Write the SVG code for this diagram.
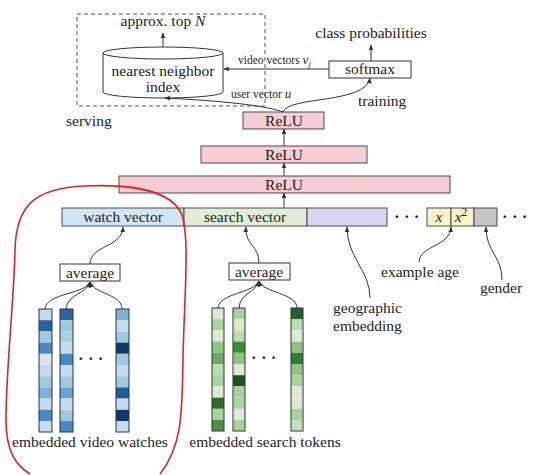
<svg xmlns="http://www.w3.org/2000/svg" width="540" height="475" viewBox="0 0 540 475">
<style>
text{font-family:"Liberation Serif","DejaVu Serif",serif;fill:#222;}
.lbl{font-size:15.5px;}
.sm{font-size:11.5px;}
.dots{font-size:17px;font-weight:bold;}
.mid{text-anchor:middle;}
.it{font-style:italic;}
.box{stroke:#4a4a4a;stroke-width:1;}
.relu{fill:#f5cdd3;}
.wbox{fill:#fff;stroke:#333;stroke-width:1;}
.con{fill:none;stroke:#333;stroke-width:1;}
.cell{stroke:none;}
.col{fill:none;stroke:#333;stroke-width:1;}
</style>
<defs>
<marker id="ah" viewBox="0 0 10 10" refX="9" refY="5" markerWidth="6" markerHeight="6" orient="auto" markerUnits="userSpaceOnUse">
<path d="M0,1 L10,5 L0,9 Z" fill="#333"/>
</marker>
</defs>
<rect width="540" height="475" fill="#fff"/>

<g id="serving-box">
<rect x="77" y="14" width="188" height="92" fill="none" stroke="#555" stroke-width="1" stroke-dasharray="4,3"/>
<text class="lbl" x="66" y="126">serving</text>
</g>

<g id="nn-index">
<path d="M103,53 L103,92 A60,6 0 0 0 223,92 L223,53" fill="#fff" stroke="#333" stroke-width="1"/>
<ellipse cx="163" cy="53" rx="60" ry="6" fill="#fff" stroke="#333" stroke-width="1"/>
<text class="lbl mid" x="163" y="76">nearest neighbor</text>
<text class="lbl mid" x="163" y="92">index</text>
</g>

<g id="top-n">
<text class="lbl mid" x="163" y="26">approx. top <tspan class="it">N</tspan></text>
</g>

<g id="softmax">
<rect class="wbox" x="329" y="61" width="82" height="17"/>
<text class="lbl mid" x="370" y="74">softmax</text>
</g>

<g id="class-prob">
<text class="lbl mid" x="371" y="38">class probabilities</text>
</g>

<g id="training">
<text class="lbl" x="358" y="106">training</text>
</g>

<g id="relu3">
<rect class="box relu" x="243" y="112" width="81" height="17"/>
<text class="lbl mid" x="284" y="125.5">ReLU</text>
</g>
<g id="relu2">
<rect class="box relu" x="201" y="146" width="166" height="17"/>
<text class="lbl mid" x="284" y="159.5">ReLU</text>
</g>
<g id="relu1">
<rect class="box relu" x="119" y="176" width="331" height="17"/>
<text class="lbl mid" x="284" y="189.5">ReLU</text>
</g>

<g id="input-layer">
<rect class="box" x="62" y="208" width="122" height="18" fill="#d2e5f2"/>
<text class="lbl mid" x="123" y="222">watch vector</text>
<rect class="box" x="184" y="208" width="123" height="18" fill="#dfedd9"/>
<text class="lbl mid" x="245" y="222">search vector</text>
<rect class="box" x="307" y="208" width="80" height="18" fill="#d9d6ef"/>
<text class="dots" x="394" y="222">· · ·</text>
<rect class="box" x="427" y="208" width="24" height="18" fill="#f8f3c8"/>
<text class="lbl mid it" x="439" y="222" fill="#444">x</text>
<rect class="box" x="451" y="208" width="23" height="18" fill="#f8f3c8"/>
<text class="lbl mid it" x="461" y="222" fill="#444">x<tspan class="sm" dy="-6" font-style="normal">2</tspan></text>
<rect class="box" x="474" y="208" width="23" height="18" fill="#c6c6c6"/>
<text class="dots" x="502" y="222">· · ·</text>
</g>

<g id="watch-average">
<rect class="wbox" x="60" y="264" width="60" height="17"/>
<text class="lbl mid" x="90" y="277.5">average</text>
</g>
<g id="search-average">
<rect class="wbox" x="229" y="263" width="61" height="17"/>
<text class="lbl mid" x="259" y="276.5">average</text>
</g>

<g id="watch-embeddings">
<g transform="translate(39,309)">
<rect class="cell" y="0" width="13" height="11.2" fill="#c6dbef"/>
<rect class="cell" y="11.2" width="13" height="11.2" fill="#2a64a3"/>
<rect class="cell" y="22.4" width="13" height="11.2" fill="#9ecae1"/>
<rect class="cell" y="33.6" width="13" height="11.2" fill="#4a87c3"/>
<rect class="cell" y="44.8" width="13" height="11.2" fill="#d6e6f4"/>
<rect class="cell" y="56" width="13" height="11.2" fill="#c6dbef"/>
<rect class="cell" y="67.2" width="13" height="11.2" fill="#9ecae1"/>
<rect class="cell" y="78.4" width="13" height="11.2" fill="#7fb0d8"/>
<rect class="cell" y="89.6" width="13" height="11.2" fill="#c6dbef"/>
<rect class="cell" y="100.8" width="13" height="11.2" fill="#4a87c3"/>
<rect class="cell" y="112" width="13" height="11" fill="#c6dbef"/>
<rect class="col" width="13" height="123"/>
</g>
<g transform="translate(60,309)">
<rect class="cell" y="0" width="13" height="11.2" fill="#2a64a3"/>
<rect class="cell" y="11.2" width="13" height="11.2" fill="#9ecae1"/>
<rect class="cell" y="22.4" width="13" height="11.2" fill="#a9cfe6"/>
<rect class="cell" y="33.6" width="13" height="11.2" fill="#c6dbef"/>
<rect class="cell" y="44.8" width="13" height="11.2" fill="#4a87c3"/>
<rect class="cell" y="56" width="13" height="11.2" fill="#c6dbef"/>
<rect class="cell" y="67.2" width="13" height="11.2" fill="#9ecae1"/>
<rect class="cell" y="78.4" width="13" height="11.2" fill="#6aa1d0"/>
<rect class="cell" y="89.6" width="13" height="11.2" fill="#c6dbef"/>
<rect class="cell" y="100.8" width="13" height="11.2" fill="#9ecae1"/>
<rect class="cell" y="112" width="13" height="11" fill="#4a87c3"/>
<rect class="col" width="13" height="123"/>
</g>
<g transform="translate(116,309)">
<rect class="cell" y="0" width="13" height="11.2" fill="#7fb0d8"/>
<rect class="cell" y="11.2" width="13" height="11.2" fill="#c6dbef"/>
<rect class="cell" y="22.4" width="13" height="11.2" fill="#9ecae1"/>
<rect class="cell" y="33.6" width="13" height="11.2" fill="#0e3a68"/>
<rect class="cell" y="44.8" width="13" height="11.2" fill="#9ecae1"/>
<rect class="cell" y="56" width="13" height="11.2" fill="#c6dbef"/>
<rect class="cell" y="67.2" width="13" height="11.2" fill="#9ecae1"/>
<rect class="cell" y="78.4" width="13" height="11.2" fill="#1f5c99"/>
<rect class="cell" y="89.6" width="13" height="11.2" fill="#c6dbef"/>
<rect class="cell" y="100.8" width="13" height="11.2" fill="#0e3a68"/>
<rect class="cell" y="112" width="13" height="11" fill="#c6dbef"/>
<rect class="col" width="13" height="123"/>
</g>
<text class="dots" x="78" y="364">· · ·</text>
<text class="lbl mid" x="90" y="447">embedded video watches</text>
</g>

<g id="search-embeddings">
<g transform="translate(212,308)">
<rect class="cell" y="0" width="12" height="11.2" fill="#d9ecd3"/>
<rect class="cell" y="11.2" width="12" height="11.2" fill="#a9d39e"/>
<rect class="cell" y="22.4" width="12" height="11.2" fill="#d9ecd3"/>
<rect class="cell" y="33.6" width="12" height="11.2" fill="#8cc484"/>
<rect class="cell" y="44.8" width="12" height="11.2" fill="#6aa864"/>
<rect class="cell" y="56" width="12" height="11.2" fill="#b9dcb0"/>
<rect class="cell" y="67.2" width="12" height="11.2" fill="#a9d39e"/>
<rect class="cell" y="78.4" width="12" height="11.2" fill="#d9ecd3"/>
<rect class="cell" y="89.6" width="12" height="11.2" fill="#2d6a2d"/>
<rect class="cell" y="100.8" width="12" height="11.2" fill="#a9d39e"/>
<rect class="cell" y="112" width="12" height="11" fill="#4a8f45"/>
<rect class="col" width="12" height="123"/>
</g>
<g transform="translate(233,308)">
<rect class="cell" y="0" width="12" height="11.2" fill="#a9d39e"/>
<rect class="cell" y="11.2" width="12" height="11.2" fill="#d9ecd3"/>
<rect class="cell" y="22.4" width="12" height="11.2" fill="#b9dcb0"/>
<rect class="cell" y="33.6" width="12" height="11.2" fill="#3d8a3d"/>
<rect class="cell" y="44.8" width="12" height="11.2" fill="#8cc484"/>
<rect class="cell" y="56" width="12" height="11.2" fill="#d9ecd3"/>
<rect class="cell" y="67.2" width="12" height="11.2" fill="#1f561f"/>
<rect class="cell" y="78.4" width="12" height="11.2" fill="#a9d39e"/>
<rect class="cell" y="89.6" width="12" height="11.2" fill="#a9d39e"/>
<rect class="cell" y="100.8" width="12" height="11.2" fill="#d9ecd3"/>
<rect class="cell" y="112" width="12" height="11" fill="#a9d39e"/>
<rect class="col" width="12" height="123"/>
</g>
<g transform="translate(291,308)">
<rect class="cell" y="0" width="12" height="11.2" fill="#2a5e2a"/>
<rect class="cell" y="11.2" width="12" height="11.2" fill="#b9dcb0"/>
<rect class="cell" y="22.4" width="12" height="11.2" fill="#d9ecd3"/>
<rect class="cell" y="33.6" width="12" height="11.2" fill="#8cc484"/>
<rect class="cell" y="44.8" width="12" height="11.2" fill="#357a32"/>
<rect class="cell" y="56" width="12" height="11.2" fill="#8cc484"/>
<rect class="cell" y="67.2" width="12" height="11.2" fill="#a9d39e"/>
<rect class="cell" y="78.4" width="12" height="11.2" fill="#d9ecd3"/>
<rect class="cell" y="89.6" width="12" height="11.2" fill="#d9ecd3"/>
<rect class="cell" y="100.8" width="12" height="11.2" fill="#a9d39e"/>
<rect class="cell" y="112" width="12" height="11" fill="#c4e2bc"/>
<rect class="col" width="12" height="123"/>
</g>
<text class="dots" x="251" y="363">· · ·</text>
<text class="lbl mid" x="265" y="447">embedded search tokens</text>
</g>

<g id="geo-label">
<text class="lbl" x="333" y="313">geographic</text>
<text class="lbl" x="333" y="331">embedding</text>
</g>
<g id="age-label">
<text class="lbl mid" x="420" y="277">example age</text>
</g>
<g id="gender-label">
<text class="lbl mid" x="501" y="293">gender</text>
</g>

<g id="connectors">
<path class="con" d="M163,47 L163,33" marker-end="url(#ah)"/>
<path class="con" d="M371,61 L371,45" marker-end="url(#ah)"/>
<path class="con" d="M329,69 L224,69" marker-end="url(#ah)"/>
<path class="con" d="M283,112 C288,96 366,104 370,78" marker-end="url(#ah)"/>
<path class="con" d="M283,112 C262,104 205,100 165,98" marker-end="url(#ah)"/>
<path class="con" d="M284,146 L284,129" marker-end="url(#ah)"/>
<path class="con" d="M284,176 L284,163" marker-end="url(#ah)"/>
<path class="con" d="M284,208 L284,193" marker-end="url(#ah)"/>
<path class="con" d="M90,264 C90,245 122,248 123,227" marker-end="url(#ah)"/>
<path class="con" d="M45,309 C46,293 86,294 90,282" marker-end="url(#ah)"/>
<path class="con" d="M66,309 C67,294 87,294 90,282" marker-end="url(#ah)"/>
<path class="con" d="M122,309 C122,294 94,294 90,282" marker-end="url(#ah)"/>
<path class="con" d="M259,263 C259,245 245,246 246,227" marker-end="url(#ah)"/>
<path class="con" d="M218,308 C219,293 255,293 259,281" marker-end="url(#ah)"/>
<path class="con" d="M239,308 C240,293 256,293 259,281" marker-end="url(#ah)"/>
<path class="con" d="M297,308 C297,293 263,293 259,281" marker-end="url(#ah)"/>
<path class="con" d="M370,298 C370,270 347,258 347,227" marker-end="url(#ah)"/>
<path class="con" d="M419,262 C420,245 450,247 451,227" marker-end="url(#ah)"/>
<path class="con" d="M502,280 C502,256 486,252 486,227" marker-end="url(#ah)"/>
</g>

<g id="labels-top">
<text class="sm" x="238" y="64">video vectors <tspan class="it" font-size="13">v</tspan><tspan class="it" font-size="9" dy="3">j</tspan></text>
<text class="sm" x="231" y="98">user vector <tspan class="it" font-size="13">u</tspan></text>
</g>

<g id="red-loop">
<path d="M30,474 C15,465 6,450 6,420 C6,370 14,300 15,250 C16,205 35,188 85,186 C130,184 172,190 182,215 C190,240 184,300 183,360 C182,410 183,445 160,474" fill="none" stroke="#d8262b" stroke-width="1.6"/>
</g>
</svg>
